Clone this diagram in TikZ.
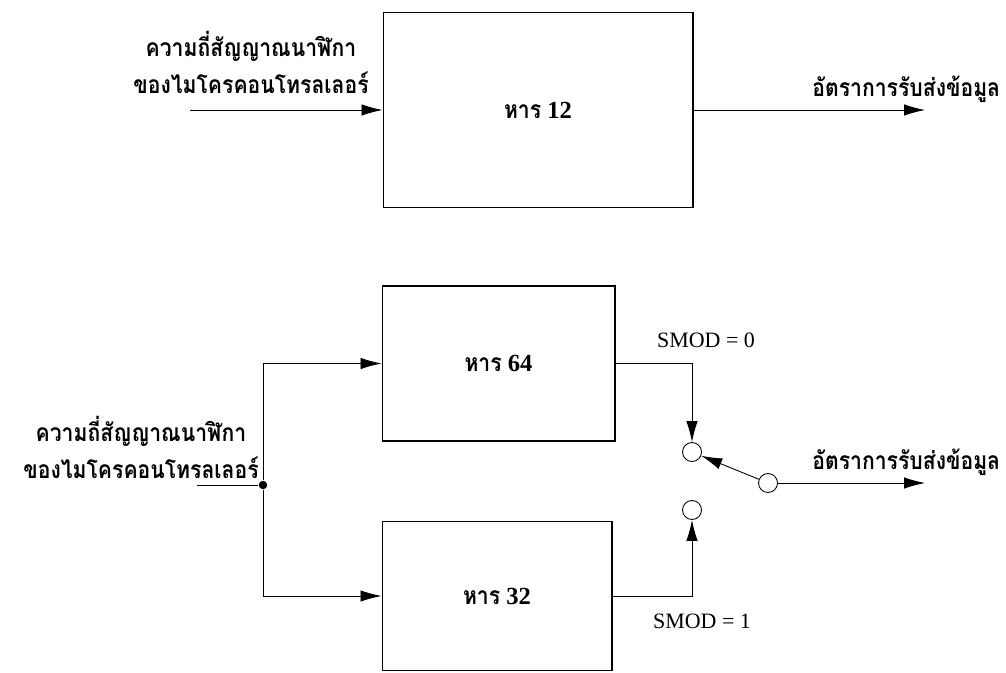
\documentclass[tikz,border=0pt]{standalone}
\usepackage{fontspec}
\setmainfont{Liberation Serif}
\newfontfamily\thaifont[Script=Thai, FakeStretch=0.86]{Loma}
\usetikzlibrary{positioning, arrows.meta, calc}

\begin{document}
\begin{tikzpicture}[x=0.02cm, y=-0.02cm,
    every node/.style={inner sep=0pt},
    blk/.style={rectangle, draw, line width=0.6pt,
      font=\bfseries\fontsize{14}{16}\selectfont},
    txt/.style={font=\thaifont\bfseries\fontsize{14}{21}\selectfont, align=center},
    lbl/.style={font=\fontsize{12.5}{14}\selectfont},
    pin/.style={circle, draw, line width=0.5pt, minimum size=0.38cm},
    dot/.style={circle, fill, minimum size=1.7mm},
    arr/.style={-{Latex[length=4.2mm, width=2.3mm]}, line width=0.5pt}]
  \useasboundingbox (0,0) rectangle (1006,672);
  % single divider
  \node[blk, minimum width=6.2cm, minimum height=3.9cm] (d12) at (538,110) {{\thaifont หาร} 12};
  \node[txt] (clk1) at (251,62) {ความถี่สัญญาณนาฬิกา\\ของไมโครคอนโทรลเลอร์};
  \node[txt, anchor=south west] (rate1) at (812,103) {อัตราการรับส่งข้อมูล};
  \coordinate (in1) at (190,110);
  \coordinate (out1) at (925,110);
  \draw[arr] (in1) -- (d12);
  \draw[arr] (d12) -- (out1);
  % two dividers with switch
  \node[blk, minimum width=4.66cm, minimum height=3.1cm] (d64) at (498.5,363.5) {{\thaifont หาร} 64};
  \node[blk, minimum width=4.6cm, minimum height=2.98cm] (d32) at (497,596) {{\thaifont หาร} 32};
  \node[txt] (clk2) at (141,447) {ความถี่สัญญาณนาฬิกา\\ของไมโครคอนโทรลเลอร์};
  \node[dot] (split) at (263,485) {};
  \coordinate (in2) at (197,485);
  \draw (in2) -- (split);
  \draw[arr] (split) |- (d64);
  \draw[arr] (split) |- (d32);
  \node[pin] (s0) at (692,452) {};
  \node[pin] (s1) at (692,510) {};
  \node[pin] (sw) at (768,483) {};
  \node[lbl] (m0) at (706,340) {SMOD = 0};
  \node[lbl] (m1) at (702,621) {SMOD = 1};
  \draw[arr] (d64) -| (s0);
  \draw[arr] (d32) -| (s1);
  \draw[arr] (sw) -- (s0);
  \coordinate (out2) at (925,483);
  \draw[arr] (sw) -- (out2);
  \node[txt, anchor=south west] (rate2) at (812,476) {อัตราการรับส่งข้อมูล};
\end{tikzpicture}
\end{document}
